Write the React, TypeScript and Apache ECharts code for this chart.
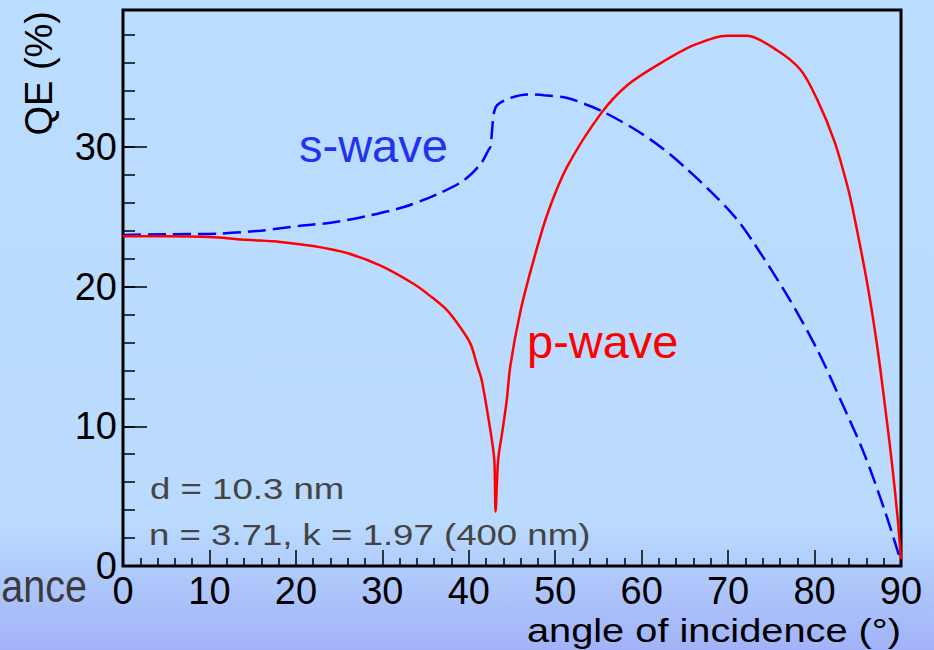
import React, { useEffect, useRef } from "react";
import * as echarts from "echarts";

// angle of incidence (deg) and QE (%)
const pAngles = [0, 5, 10, 14.3, 18.2, 22, 25.9, 29.8, 33.6, 35.6, 37.5, 39, 40.2, 41, 41.5, 42.5, 42.95, 43.1, 43.4, 43.9, 44.4, 44.8, 46, 47.5, 49.1, 51.4, 55.3, 58.3, 62.2, 66.1, 69.9, 72.2, 75.7, 78.4, 80.3, 82.3, 83.8, 84.6, 86.1, 87.3, 88.3, 89.0, 89.6, 90];
const pValues = [23.6, 23.6, 23.55, 23.35, 23.2, 22.9, 22.4, 21.5, 20.2, 19.3, 18.3, 17.1, 15.9, 14.3, 13.3, 9.7, 7.6, 3.9, 7.6, 9.7, 11.9, 14.3, 18.3, 21.9, 25.2, 28.6, 32.4, 34.4, 36.0, 37.3, 37.96, 37.95, 36.9, 35.5, 33.4, 30.4, 27.2, 25.0, 20.2, 15.5, 10.7, 7.1, 3.5, 0.5];

const sAngles = [0, 5, 11.2, 15.9, 20.5, 24.4, 28.2, 32.5, 36.3, 39.4, 41.4, 42.3, 42.5, 42.7, 42.9, 43.3, 44.8, 46.8, 48.7, 51.4, 53.7, 55.6, 59.1, 62.2, 64.9, 68, 70.9, 73, 76.9, 80.3, 83, 85.7, 88.1, 90];
const sValues = [23.7, 23.75, 23.8, 24.0, 24.35, 24.6, 25.05, 25.7, 26.6, 27.6, 28.8, 29.8, 30.0, 31.2, 32.4, 33.0, 33.5, 33.76, 33.7, 33.5, 33.0, 32.5, 31.3, 30.0, 28.6, 26.8, 24.9, 23.1, 19.3, 15.5, 11.9, 8.1, 4.0, 0.3];

const xTicks = [0, 10, 20, 30, 40, 50, 60, 70, 80, 90];
const yTicks = [0, 10, 20, 30];

const FONT = "'Liberation Sans', Arial, Helvetica, sans-serif";

export default function App() {
  const ref = useRef<HTMLDivElement>(null);
  useEffect(() => {
    if (!ref.current) return;
    const chart = echarts.init(ref.current, undefined, { renderer: "svg" });
    const pData = pAngles.map((a, i) => [a, pValues[i]]);
    const sData = sAngles.map((a, i) => [a, sValues[i]]);
    chart.setOption({
      animation: false,
      backgroundColor: {
        type: "linear",
        x: 0, y: 0, x2: 0, y2: 1,
        colorStops: [
          { offset: 0, color: "#BBDDFF" },
          { offset: 0.8, color: "#BADBFE" },
          { offset: 1, color: "#A2B2F8" },
        ],
      },
      grid: {
        left: 123, top: 10, right: 33, bottom: 84,
        show: true, borderColor: "#000", borderWidth: 3, backgroundColor: "transparent",
      },
      xAxis: {
        type: "value", min: xTicks[0], max: xTicks[xTicks.length - 1], interval: 10,
        axisLine: { show: false },
        axisTick: { show: true, inside: true, length: 16, lineStyle: { color: "#000", width: 1.5 } },
        minorTick: { show: true, splitNumber: 5, length: 8, lineStyle: { color: "#000", width: 1.5 } },
        splitLine: { show: false },
        axisLabel: { fontSize: 38, color: "#000", fontFamily: FONT, margin: 6 },
      },
      yAxis: [
        {
          type: "value", min: yTicks[0], max: 39.8, interval: 10, position: "left",
          axisLine: { show: false },
          axisTick: { show: true, inside: true, length: 24, lineStyle: { color: "#000", width: 1.5 } },
          splitLine: { show: false },
          axisLabel: { fontSize: 38, color: "#000", fontFamily: FONT, margin: 6, showMaxLabel: false,
            formatter: (v: number) => (yTicks.indexOf(v) >= 0 ? String(v) : "") },
        },
        {
          type: "value", min: 0, max: 39.8, interval: 2, position: "left",
          axisLine: { show: false },
          axisTick: { show: true, inside: true, length: 12, lineStyle: { color: "#000", width: 1.5 } },
          splitLine: { show: false },
          axisLabel: { show: false },
        },
      ],
      series: [
        {
          name: "s-wave", type: "line", data: sData, yAxisIndex: 0, showSymbol: false, smooth: 0.3,
          lineStyle: { color: "#0000FF", width: 2.5, type: [18, 7] },
        },
        {
          name: "p-wave", type: "line", data: pData, yAxisIndex: 0, showSymbol: false, smooth: 0.3,
          lineStyle: { color: "#FF0000", width: 2.5 },
        },
      ],
      graphic: [
        { type: "text", x: 299, y: 145.4, style: { text: "s-wave", fontSize: 47, fontFamily: FONT, fill: "#2233EE", align: "left", verticalAlign: "middle" } },
        { type: "text", x: 527, y: 341.7, style: { text: "p-wave", fontSize: 47, fontFamily: FONT, fill: "#FF0000", align: "left", verticalAlign: "middle" } },
        { type: "text", x: 150, y: 488.6, scaleX: 1.22, style: { text: "d = 10.3 nm", fontSize: 30, fontFamily: FONT, fill: "#444444", align: "left", verticalAlign: "middle" } },
        { type: "text", x: 149, y: 534.6, scaleX: 1.22, style: { text: "n = 3.71, k = 1.97 (400 nm)", fontSize: 30, fontFamily: FONT, fill: "#444444", align: "left", verticalAlign: "middle" } },
        { type: "text", x: 901, y: 630.5, scaleX: 1.17, style: { text: "angle of incidence (°)", fontSize: 34, fontFamily: FONT, fill: "#000", align: "right", verticalAlign: "middle" } },
        { type: "text", x: 39, y: 11, rotation: Math.PI / 2, style: { text: "QE (%)", fontSize: 38, fontFamily: FONT, fill: "#000", align: "right", verticalAlign: "middle" } },
        { type: "text", x: 87, y: 585.8, scaleY: 1.18, style: { text: "ance", fontSize: 39.5, fontFamily: FONT, fill: "#3A3A3A", align: "right", verticalAlign: "middle" } },
      ],
    });
    return () => chart.dispose();
  }, []);
  return <div ref={ref} style={{ position: "fixed", left: 0, top: 0, width: 934, height: 650 }} />;
}
